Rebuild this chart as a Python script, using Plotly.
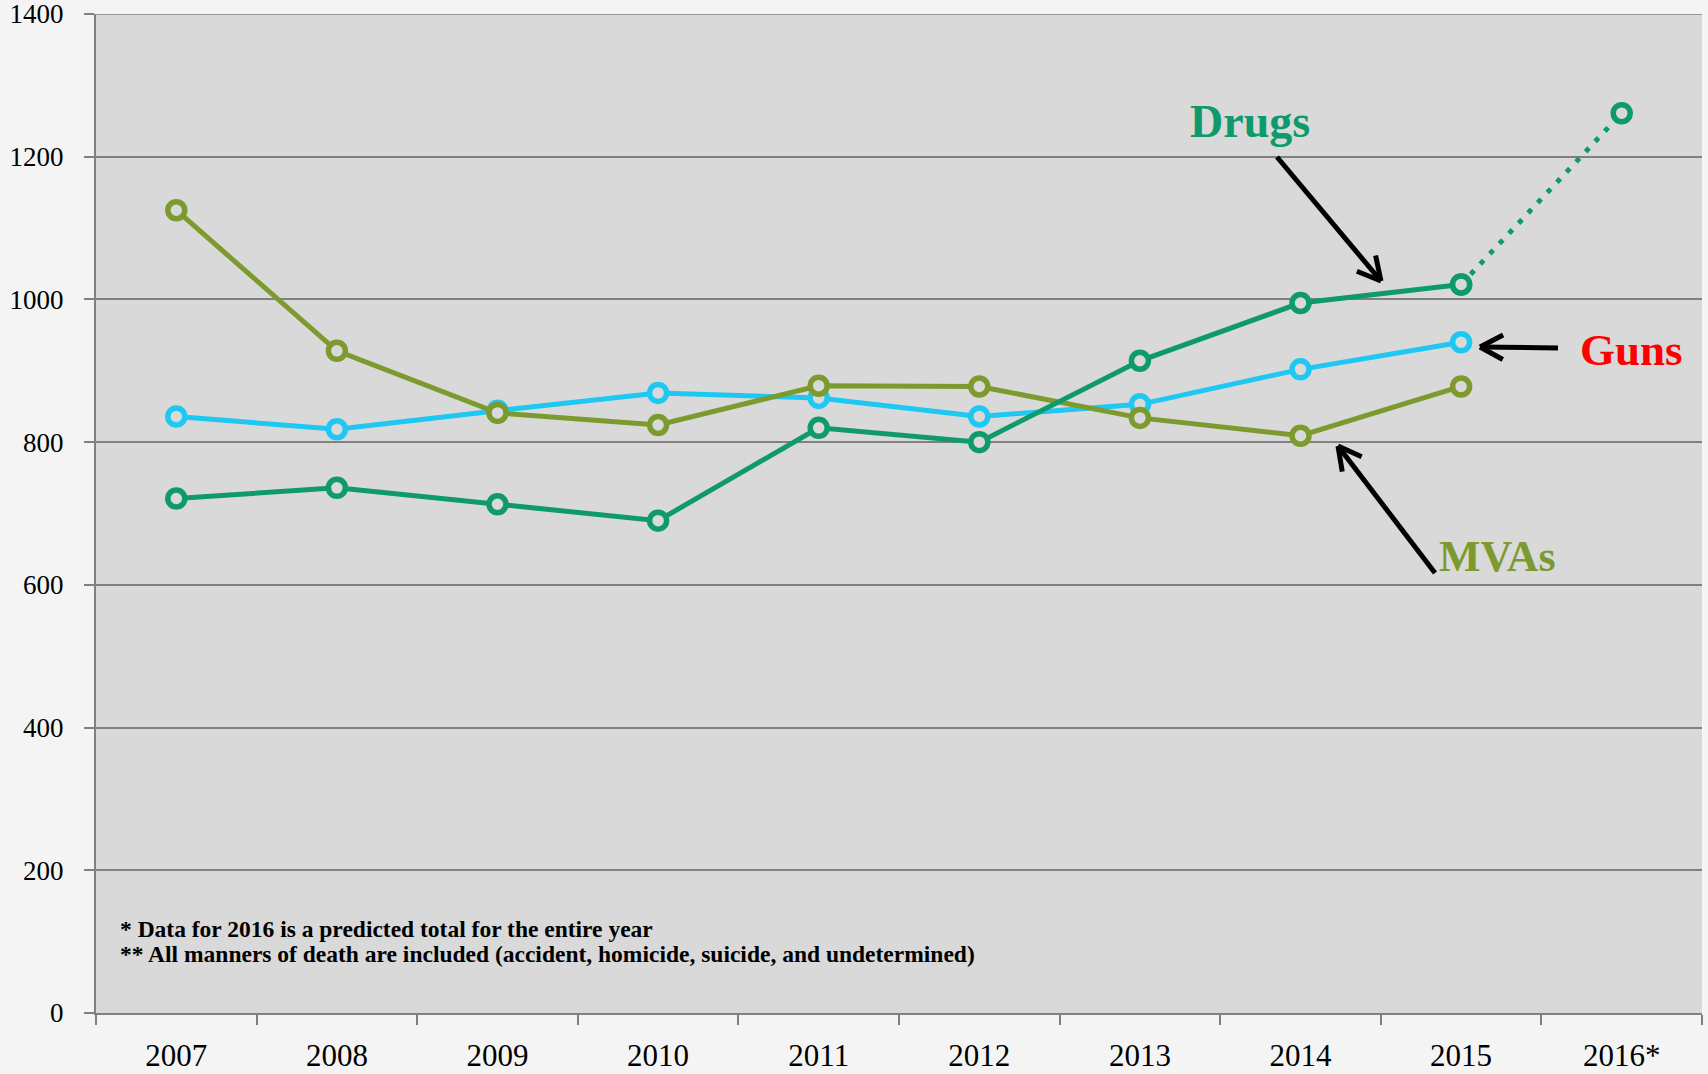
import math
import plotly.graph_objects as go

# ---------------- data ----------------
years = ["2007", "2008", "2009", "2010", "2011", "2012", "2013", "2014", "2015", "2016*"]
guns = [836, 818, 844, 869, 862, 836, 853, 902, 940, None]
drugs = [721, 736, 713, 690, 820, 800, 914, 995, 1021, 1261]
mvas = [1125, 928, 841, 824, 879, 878, 834, 809, 878, None]
y_ticks = [0, 200, 400, 600, 800, 1000, 1200, 1400]
notes = ["* Data for 2016 is a predicted total for the entire year",
         "** All manners of death are included (accident, homicide, suicide, and undetermined)"]

# ---------------- style ----------------
W, H = 1708, 1074
ML, MR, MT, MB = 96, 6, 14, 61
PW, PH = W - ML - MR, H - MT - MB
FONT = "Liberation Serif"
C_GUNS = "#1FC8F2"
C_DRUGS = "#0F9A6D"
C_MVAS = "#7D9A2F"
PLOT_BG = "#D9D9D9"
GRID = "#808080"


def px2paper(x, y):
    return (x - ML) / PW, (H - MB - y) / PH


def marker(color):
    return dict(symbol="circle", size=17, color=PLOT_BG, line=dict(color=color, width=5.5))


fig = go.Figure()

fig.add_trace(go.Scatter(x=years[:9], y=guns[:9], mode="lines+markers",
                         line=dict(color=C_GUNS, width=5), marker=marker(C_GUNS),
                         showlegend=False))
fig.add_trace(go.Scatter(x=years[:9], y=mvas[:9], mode="lines+markers",
                         line=dict(color=C_MVAS, width=5), marker=marker(C_MVAS),
                         showlegend=False))
# projected segment (dotted)
fig.add_trace(go.Scatter(x=years[8:], y=drugs[8:], mode="lines+markers",
                         line=dict(color=C_DRUGS, width=5, dash="5px,9px"),
                         marker=marker(C_DRUGS), showlegend=False))
fig.add_trace(go.Scatter(x=years[:9], y=drugs[:9], mode="lines+markers",
                         line=dict(color=C_DRUGS, width=5), marker=marker(C_DRUGS),
                         showlegend=False))


# ---------------- arrows (decoration) ----------------
def arrow(tail, tip, wing=26, ang=28):
    x0, y0 = tail
    x1, y1 = tip
    base = math.atan2(y0 - y1, x0 - x1)
    pts = []
    for s in (-1, 1):
        a = base + s * math.radians(ang)
        pts.append((x1 + wing * math.cos(a), y1 + wing * math.sin(a)))
    out = []
    for (a, b) in [(tail, tip), (pts[0], tip), (pts[1], tip)]:
        ax_, ay_ = px2paper(*a)
        bx_, by_ = px2paper(*b)
        out.append(dict(type="line", xref="paper", yref="paper",
                        x0=ax_, y0=ay_, x1=bx_, y1=by_,
                        line=dict(color="black", width=5)))
    return out


shapes = [dict(type="line", xref="paper", yref="y", x0=0, x1=1, y0=1400, y1=1400,
               line=dict(color=GRID, width=1.5), layer="below")]
shapes += arrow((1277, 157), (1381, 281))
shapes += arrow((1558, 348), (1480, 347))
shapes += arrow((1435, 573), (1338, 446))

annotations = []
for txt, color, size, (cx, cy) in [("Drugs", C_DRUGS, 46, (1250, 121)),
                                   ("Guns", "#FF0000", 45, (1631, 350)),
                                   ("MVAs", C_MVAS, 44, (1497, 556))]:
    px_, py_ = px2paper(cx, cy)
    annotations.append(dict(text="<b>%s</b>" % txt, x=px_, y=py_, xref="paper", yref="paper",
                            xanchor="center", yanchor="middle", showarrow=False,
                            font=dict(family=FONT, size=size, color=color)))

for line, ypx in zip(notes, (929, 954)):
    nx, ny = px2paper(118, ypx)
    annotations.append(dict(
        text="<b>%s</b>" % line,
        x=nx, y=ny, xref="paper", yref="paper", xanchor="left", yanchor="middle",
        align="left", showarrow=False, font=dict(family=FONT, size=23.5, color="black")))

fig.update_layout(
    width=W, height=H,
    margin=dict(l=ML, r=MR, t=MT, b=MB),
    paper_bgcolor="#F4F4F4",
    plot_bgcolor=PLOT_BG,
    font=dict(family=FONT, color="black"),
    shapes=shapes,
    annotations=annotations,
    showlegend=False,
)
fig.update_xaxes(
    type="category", categoryorder="array", categoryarray=years,
    range=[-0.5, len(years) - 0.5], automargin=False,
    showgrid=False, zeroline=False,
    showline=True, linecolor=GRID, linewidth=2,
    ticks="outside", tickson="boundaries", ticklen=10, tickcolor=GRID, tickwidth=1.5,
    tickfont=dict(family=FONT, size=31, color="black"),
    ticklabelstandoff=14, ticklabeloverflow="allow",
)
fig.update_yaxes(
    range=[0, 1400], tickvals=y_ticks, ticktext=[str(v) for v in y_ticks],
    automargin=False,
    showgrid=True, gridcolor=GRID, gridwidth=1.5, zeroline=False,
    showline=True, linecolor=GRID, linewidth=2,
    ticks="outside", ticklen=10, tickcolor=GRID, tickwidth=1.5,
    tickfont=dict(family=FONT, size=27, color="black"),
    ticklabelstandoff=15, ticklabeloverflow="allow",
)

fig.write_html("out.html")
